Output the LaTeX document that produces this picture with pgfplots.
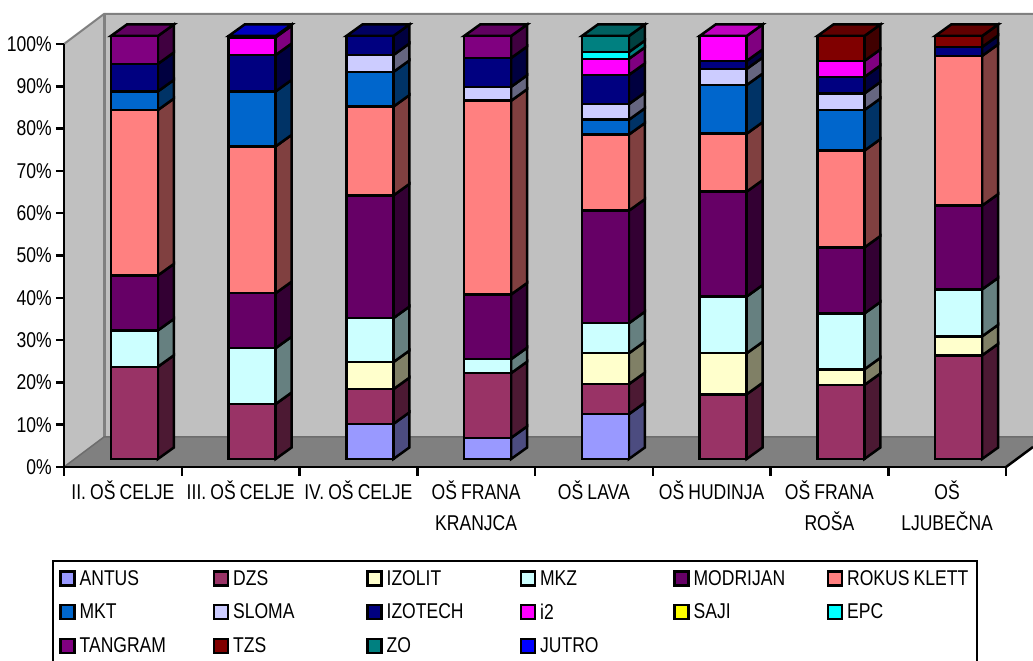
\documentclass[border=0pt]{standalone}
\usepackage{pgfplots}
\usepackage{pgfplotstable}
\usepackage{fontspec}
\pgfplotsset{compat=1.18}
\setmainfont[FakeStretch=0.82,WordSpace=0.85]{Liberation Sans}
\definecolor{cANTUS}{HTML}{9999FF}
\definecolor{cDZS}{HTML}{993366}
\definecolor{cIZOLIT}{HTML}{FFFFCC}
\definecolor{cMKZ}{HTML}{CCFFFF}
\definecolor{cMODRIJAN}{HTML}{660066}
\definecolor{cROKUS}{HTML}{FF8080}
\definecolor{cMKT}{HTML}{0066CC}
\definecolor{cSLOMA}{HTML}{CCCCFF}
\definecolor{cIZOTECH}{HTML}{000080}
\definecolor{ci2}{HTML}{FF00FF}
\definecolor{cSAJI}{HTML}{FFFF00}
\definecolor{cEPC}{HTML}{00FFFF}
\definecolor{cTANGRAM}{HTML}{800080}
\definecolor{cTZS}{HTML}{800000}
\definecolor{cZO}{HTML}{008080}
\definecolor{cJUTRO}{HTML}{0000FF}
\definecolor{wall}{HTML}{C0C0C0}
\definecolor{floorc}{HTML}{808080}
\pgfplotstableread{
pos ANTUS DZS IZOLIT MKZ MODRIJAN ROKUS MKT SLOMA IZOTECH i2 SAJI EPC TANGRAM TZS ZO JUTRO
0.5 0 21.8 0 8.6 13 39.1 4.4 0 6.5 0 0 0 6.6 0 0 0
1.5 0 13 0 13.2 13 34.7 13 0 8.6 4.2 0 0 0 0 0 0.3
2.5 8.3 8.2 6.4 10.4 29 21 8.2 4 4.5 0 0 0 0 0 0 0
3.5 5 15.3 0 3.3 15.3 45.8 0 3.3 6.8 0 0 0 5.2 0 0 0
4.5 10.6 7.1 7.3 7.1 26.6 18 3.5 3.7 6.9 3.8 0 1.6 0 0 3.8 0
5.5 0 15.3 9.7 13.4 24.8 13.7 11.5 3.8 1.9 5.9 0 0 0 0 0 0
6.5 0 17.5 3.7 13.2 15.6 22.9 9.6 3.9 3.9 3.8 0 0 0 5.9 0 0
7.5 0 24.5 4.5 11.1 19.8 35.4 0 0 2.1 0 0 0 0 2.6 0 0
}\shares
\newcommand{\txt}{\fontsize{21.4}{30.5}\selectfont}
\newcommand{\ent}[1]{\makebox[133pt][l]{#1}}
\pgfplotsset{
  common/.style={
    scale only axis, width=942pt, height=423pt,
    xmin=0, xmax=8, ymin=0, ymax=100, clip=false,
    anchor=south west},
  barline/.style={draw=black, line width=2.5pt, line join=miter, mark=none},
}
\begin{document}
\begin{tikzpicture}[x=1pt,y=1pt]
\useasboundingbox (0,0) rectangle (1033,661);
% walls and floor
\fill[wall] (64,617) -- (104,647) -- (104,224) -- (64,194) -- cycle;
\fill[wall] (104,647) rectangle (1033,224);
\fill[floorc] (64,194) -- (104,224) -- (1033,224) -- (1033,214) -- (1006,194) -- cycle;
\draw[floorc, line width=2pt] (64,617) -- (104,647) -- (1033,647);
\draw[floorc, line width=3pt] (104,647) -- (104,224);
\draw[floorc!85!black, line width=1.5pt] (64,194) -- (104,224) -- (1033,224);
\draw[black, line width=2.5pt] (1006,194) -- (1033,214);
% frame axis
\begin{axis}[common, at={(64pt,194pt)},
  axis x line*=bottom, axis y line*=left,
  axis line style={line width=2.5pt, -},
  tick align=outside,
  ytick={0,10,...,100},
  yticklabels={0\%,10\%,20\%,30\%,40\%,50\%,60\%,70\%,80\%,90\%,100\%},
  major tick length=8pt,
  every tick/.style={black, line width=2.5pt},
  yticklabel style={font=\txt, inner sep=0pt, xshift=-4pt},
  xtick={0.5,...,7.5},
  minor xtick={0,1,...,8},
  x tick style={draw=none},
  minor x tick style={black, line width=2.5pt, draw=black},
  minor tick length=9pt,
  xticklabels={II. OŠ CELJE,III. OŠ CELJE,IV. OŠ CELJE,OŠ FRANA\\KRANJCA,OŠ LAVA,OŠ HUDINJA,OŠ FRANA\\ROŠA,OŠ\\LJUBEČNA},
  xticklabel style={font=\txt, align=center, anchor=north, inner sep=0pt, yshift=-6pt},
]
\addplot[draw=none, forget plot] coordinates {(0,0)};
\end{axis}
% side and top faces
\begin{axis}[common, at={(75.5pt,202pt)}, hide axis]
\def\dxa{0.1996}
\def\dxb{0.3355}
\def\dxl{-0.1996}
\def\dxm{-0.0637}
\def\dyy{2.72}
\foreach \r in {0,...,7}{
  \xdef\cum{0}
  \pgfplotstablegetelem{\r}{pos}\of\shares
  \pgfmathsetmacro\xpos{\pgfplotsretval}
  \xdef\xposg{\xpos}
  \foreach \sname/\scol in {ANTUS/cANTUS,DZS/cDZS,IZOLIT/cIZOLIT,MKZ/cMKZ,MODRIJAN/cMODRIJAN,ROKUS/cROKUS,MKT/cMKT,SLOMA/cSLOMA,IZOTECH/cIZOTECH,i2/ci2,SAJI/cSAJI,EPC/cEPC,TANGRAM/cTANGRAM,TZS/cTZS,ZO/cZO,JUTRO/cJUTRO}{
    \pgfplotstablegetelem{\r}{\sname}\of\shares
    \let\vv\pgfplotsretval
    \pgfmathtruncatemacro\pos{\vv>0 ? 1 : 0}
    \ifnum\pos=1
      \pgfmathsetmacro\xa{\xposg+\dxa}
      \pgfmathsetmacro\xb{\xposg+\dxb}
      \pgfmathsetmacro\ya{\cum}
      \pgfmathsetmacro\yb{\cum+\vv}
      \pgfmathsetmacro\yc{\ya+\dyy}
      \pgfmathsetmacro\yd{\yb+\dyy}
      \edef\temp{\noexpand\addplot[barline, fill=\scol!50!black, forget plot] coordinates {(\xa,\ya) (\xb,\yc) (\xb,\yd) (\xa,\yb)} -- cycle;}
      \temp
      \xdef\cum{\yb}
      \xdef\lastc{\scol}
    \fi
  }
  \pgfmathsetmacro\xl{\xposg+\dxl}
  \pgfmathsetmacro\xm{\xposg+\dxm}
  \pgfmathsetmacro\xa{\xposg+\dxa}
  \pgfmathsetmacro\xb{\xposg+\dxb}
  \pgfmathsetmacro\yt{100+\dyy}
  \edef\temp{\noexpand\addplot[barline, fill=\lastc!75!black, forget plot] coordinates {(\xl,100) (\xm,\yt) (\xb,\yt) (\xa,100)} -- cycle;}
  \temp
}
\end{axis}
% front faces and legend
\begin{axis}[common, at={(75.5pt,202pt)}, hide axis,
  ybar stacked, bar width=47pt,
  legend columns=6,
  legend cell align=left,
  legend image code/.code={\draw[#1, line width=2.5pt, draw=black] (0pt,-7pt) rectangle (14pt,7pt);},
  legend style={at={(-0.0176,-0.2624)}, anchor=north west, draw=none, fill=none,
    inner sep=0pt, font=\txt, nodes={inner sep=0pt}, row sep=17pt,
    /tikz/every even column/.append style={column sep=0pt},
    /tikz/every odd column/.append style={column sep=4pt}},
]
\addplot[barline, fill=cANTUS] table[x=pos,y=ANTUS]{\shares}; \addlegendentry{\ent{ANTUS}}
\addplot[barline, fill=cDZS] table[x=pos,y=DZS]{\shares}; \addlegendentry{\ent{DZS}}
\addplot[barline, fill=cIZOLIT] table[x=pos,y=IZOLIT]{\shares}; \addlegendentry{\ent{IZOLIT}}
\addplot[barline, fill=cMKZ] table[x=pos,y=MKZ]{\shares}; \addlegendentry{\ent{MKZ}}
\addplot[barline, fill=cMODRIJAN] table[x=pos,y=MODRIJAN]{\shares}; \addlegendentry{\ent{MODRIJAN}}
\addplot[barline, fill=cROKUS] table[x=pos,y=ROKUS]{\shares}; \addlegendentry{\ent{ROKUS KLETT}}
\addplot[barline, fill=cMKT] table[x=pos,y=MKT]{\shares}; \addlegendentry{\ent{MKT}}
\addplot[barline, fill=cSLOMA] table[x=pos,y=SLOMA]{\shares}; \addlegendentry{\ent{SLOMA}}
\addplot[barline, fill=cIZOTECH] table[x=pos,y=IZOTECH]{\shares}; \addlegendentry{\ent{IZOTECH}}
\addplot[barline, fill=ci2] table[x=pos,y=i2]{\shares}; \addlegendentry{\ent{i2}}
\addplot[barline, fill=cSAJI] table[x=pos,y=SAJI]{\shares}; \addlegendentry{\ent{SAJI}}
\addplot[barline, fill=cEPC] table[x=pos,y=EPC]{\shares}; \addlegendentry{\ent{EPC}}
\addplot[barline, fill=cTANGRAM] table[x=pos,y=TANGRAM]{\shares}; \addlegendentry{\ent{TANGRAM}}
\addplot[barline, fill=cTZS] table[x=pos,y=TZS]{\shares}; \addlegendentry{\ent{TZS}}
\addplot[barline, fill=cZO] table[x=pos,y=ZO]{\shares}; \addlegendentry{\ent{ZO}}
\addplot[barline, fill=cJUTRO] table[x=pos,y=JUTRO]{\shares}; \addlegendentry{\ent{JUTRO}}
\end{axis}
% legend frame
\draw[black, line width=2.5pt] (53,0) -- (53,100) -- (977,100) -- (977,0);
\end{tikzpicture}
\end{document}
